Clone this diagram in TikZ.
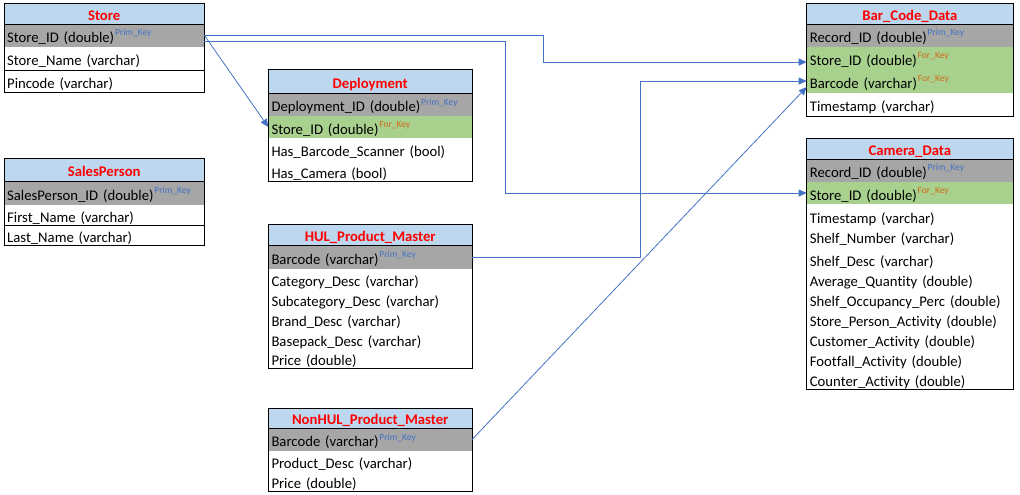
\documentclass[tikz,border=0pt]{standalone}
\usepackage{fontspec}
\setmainfont{Carlito}[Ligatures=NoCommon]
\usetikzlibrary{arrows.meta}
\definecolor{titlefill}{HTML}{BDD7EE}
\definecolor{pkfill}{HTML}{A6A6A6}
\definecolor{fkfill}{HTML}{A9D18E}
\definecolor{pkblue}{HTML}{4472C4}
\definecolor{fkorange}{HTML}{D2691E}
\definecolor{linkblue}{HTML}{4472C4}
\definecolor{titlered}{HTML}{FF0000}
\newcommand{\fieldfont}{\fontsize{14.7}{17}\selectfont}
\newcommand{\tblfont}{\fontsize{14.7}{17}\selectfont\bfseries\color{titlered}}
\newcommand{\pk}{\kern0.8pt\smash{\raisebox{6.5pt}{\fontsize{9.5}{10}\selectfont\color{pkblue}Prim\_Key}}}
\newcommand{\fk}{\kern0.8pt\smash{\raisebox{6.5pt}{\fontsize{9.5}{10}\selectfont\color{fkorange}For\_Key}}}
\tikzset{
  rowbase/.style={rectangle, anchor=west, inner xsep=3pt, inner ysep=0pt, align=left, font=\fieldfont, minimum height=20pt, text height=14pt, text depth=0pt},
  ttl/.style={rowbase, fill=titlefill, align=center, font=\tblfont, text height=13pt},
  pkrow/.style={rowbase, fill=pkfill},
  fkrow/.style={rowbase, fill=fkfill},
  wa/.style={text width=194pt},
  wb/.style={text width=197.4pt},
  wc/.style={text width=200pt},
  tbl/.style={draw=black, line width=0.9pt},
  conn/.style={draw=linkblue, line width=0.8pt, -{Triangle[length=8pt,width=7pt]}},
}
\begin{document}
\begin{tikzpicture}[x=1pt,y=-1pt]
\useasboundingbox (0,0) rectangle (1020,495);

% ---------------- Store ----------------
\node[ttl, wa, minimum height=20pt] (st-t) at (4,14) {Store};
\node[pkrow, wa, minimum height=22.7pt] (st-1) at (4,35.35) {Store\_ID (double)\pk};
\node[rowbase, wa, minimum height=23.3pt] (st-2) at (4,58.35) {Store\_Name (varchar)};
\node[rowbase, wa, minimum height=22.7pt] (st-3) at (4,81.35) {Pincode (varchar)};
\draw[tbl] (st-2.south west) -- (st-2.south east);
\draw[tbl] (st-t.south west) -- (st-t.south east);
\draw[tbl] (st-t.north west) rectangle (st-3.south east);

% ---------------- SalesPerson ----------------
\node[ttl, wa, minimum height=22.7pt] (sp-t) at (4,170.35) {SalesPerson};
\node[pkrow, wa, minimum height=23.3pt] (sp-1) at (4,193.35) {SalesPerson\_ID (double)\pk};
\node[rowbase, wa, minimum height=20.7pt] (sp-2) at (4,215.35) {First\_Name (varchar)};
\node[rowbase, wa, minimum height=19.3pt] (sp-3) at (4,235.35) {Last\_Name (varchar)};
\draw[tbl] (sp-2.south west) -- (sp-2.south east);
\draw[tbl] (sp-t.south west) -- (sp-t.south east);
\draw[tbl] (sp-t.north west) rectangle (sp-3.south east);

% ---------------- Deployment ----------------
\node[ttl, wb, minimum height=23.3pt] (dp-t) at (268.3,81.65) {Deployment};
\node[pkrow, wb, minimum height=22.4pt] (dp-1) at (268.3,104.5) {Deployment\_ID (double)\pk};
\node[fkrow, wb, minimum height=22.6pt] (dp-2) at (268.3,127) {Store\_ID (double)\fk};
\node[rowbase, wb, minimum height=20.4pt] (dp-3) at (268.3,149.8) {Has\_Barcode\_Scanner (bool)};
\node[rowbase, wb, minimum height=20.4pt] (dp-4) at (268.3,171.5) {Has\_Camera (bool)};
\draw[tbl] (dp-t.south west) -- (dp-t.south east);
\draw[tbl] (dp-t.north west) rectangle (dp-4.south east);

% ---------------- HUL_Product_Master ----------------
\node[ttl, wb, minimum height=20.7pt] (hu-t) at (268.3,235.35) {HUL\_Product\_Master};
\node[pkrow, wb, minimum height=23.3pt] (hu-1) at (268.3,257.35) {Barcode (varchar)\pk};
\node[rowbase, wb] (hu-2) at (268.3,279) {Category\_Desc (varchar)};
\node[rowbase, wb] (hu-3) at (268.3,299) {Subcategory\_Desc (varchar)};
\node[rowbase, wb] (hu-4) at (268.3,319) {Brand\_Desc (varchar)};
\node[rowbase, wb] (hu-5) at (268.3,339) {Basepack\_Desc (varchar)};
\node[rowbase, wb, minimum height=19.3pt] (hu-6) at (268.3,358.65) {Price (double)};
\draw[tbl] (hu-t.south west) -- (hu-t.south east);
\draw[tbl] (hu-t.north west) rectangle (hu-6.south east);

% ---------------- NonHUL_Product_Master ----------------
\node[ttl, wb, minimum height=20pt] (nh-t) at (268.3,418.3) {NonHUL\_Product\_Master};
\node[pkrow, wb, minimum height=22.4pt] (nh-1) at (268.3,439.5) {Barcode (varchar)\pk};
\node[rowbase, wb, minimum height=20.8pt] (nh-2) at (268.3,461.1) {Product\_Desc (varchar)};
\node[rowbase, wb, minimum height=20.2pt] (nh-3) at (268.3,481.6) {Price (double)};
\draw[tbl] (nh-t.south west) -- (nh-t.south east);
\draw[tbl] (nh-t.north west) rectangle (nh-3.south east);

% ---------------- Bar_Code_Data ----------------
\node[ttl, wc, minimum height=20pt] (bc-t) at (806.7,14) {Bar\_Code\_Data};
\node[pkrow, wc, minimum height=22.7pt] (bc-1) at (806.7,35.35) {Record\_ID (double)\pk};
\node[fkrow, wc, minimum height=22.7pt] (bc-2) at (806.7,58.05) {Store\_ID (double)\fk};
\node[fkrow, wc, minimum height=23.3pt] (bc-3) at (806.7,81.05) {Barcode (varchar)\fk};
\node[rowbase, wc, minimum height=23.3pt] (bc-4) at (806.7,104.35) {Timestamp (varchar)};
\draw[tbl] (bc-t.south west) -- (bc-t.south east);
\draw[tbl] (bc-t.north west) rectangle (bc-4.south east);

% ---------------- Camera_Data ----------------
\node[ttl, wc, minimum height=20pt] (cd-t) at (806.7,149) {Camera\_Data};
\node[pkrow, wc, minimum height=22.7pt] (cd-1) at (806.7,170.35) {Record\_ID (double)\pk};
\node[fkrow, wc, minimum height=22.6pt] (cd-2) at (806.7,193) {Store\_ID (double)\fk};
\node[rowbase, wc] (cd-3) at (806.7,216.3) {Timestamp (varchar)};
\node[rowbase, wc] (cd-4) at (806.7,236) {Shelf\_Number (varchar)};
\node[rowbase, wc] (cd-5) at (806.7,259.7) {Shelf\_Desc (varchar)};
\node[rowbase, wc] (cd-6) at (806.7,279.7) {Average\_Quantity (double)};
\node[rowbase, wc] (cd-7) at (806.7,299.7) {Shelf\_Occupancy\_Perc (double)};
\node[rowbase, wc] (cd-8) at (806.7,319.7) {Store\_Person\_Activity (double)};
\node[rowbase, wc] (cd-9) at (806.7,339.7) {Customer\_Activity (double)};
\node[rowbase, wc] (cd-10) at (806.7,359.7) {Footfall\_Activity (double)};
\node[rowbase, wc, minimum height=19.2pt] (cd-11) at (806.7,379.7) {Counter\_Activity (double)};
\draw[tbl] (cd-t.south west) -- (cd-t.south east);
\draw[tbl] (cd-t.north west) rectangle (cd-11.south east);

% ---------------- Connectors ----------------
\draw[conn] (st-1.east) -- ++(339,0) |- ([yshift=-4pt]bc-2.west);
\draw[conn] ([yshift=-6pt]st-1.east) -- ++(301,0) |- (cd-2.west);
\draw[conn] (st-1.east) -- (dp-2.west);
\draw[conn] (hu-1.east) -- ++(168.3,0) |- (bc-3.west);
\draw[conn] (nh-1.east) -- ([yshift=-6pt]bc-3.west);
\end{tikzpicture}
\end{document}
